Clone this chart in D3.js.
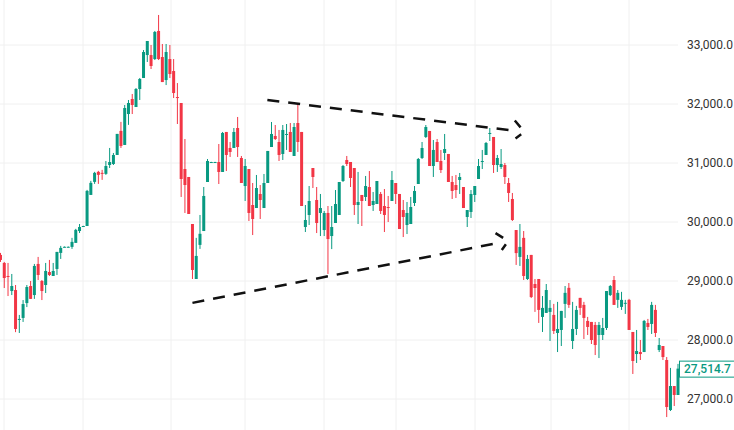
<!DOCTYPE html>
<html><head><meta charset="utf-8">
<script src="https://cdn.jsdelivr.net/npm/d3@7/dist/d3.min.js"></script>
<style>body{margin:0;background:#fff}svg{display:block}</style>
</head><body><svg id="c" width="734" height="430"></svg>
<script>
// OHLC candles [open, high, low, close]
const candles = [
[29442,29476,29323,29357],[29306,29323,28881,29051],[29085,29306,28745,29068],[28830,29119,28762,28915],
[28847,28932,28133,28187],[28340,28425,28119,28357],[28374,28677,28306,28609],[28626,28932,28558,28898],
[28915,29000,28697,28697],[28762,29289,28697,29255],[29289,29408,29017,29102],[29000,29017,28677,28830],
[28932,29306,28796,29170],[29153,29357,29085,29102],[29085,29306,29085,29170],[29204,29493,29102,29493],
[29476,29595,29374,29561],[29578,29585,29570,29580],[29578,29585,29570,29580],[29578,29731,29544,29663],
[29646,29884,29646,29867],[29847,29966,29813,29915],[29930,29936,29928,29932],[29932,30544,29932,30527],
[30459,30697,30459,30663],[30680,30850,30646,30833],[30850,30867,30646,30799],[30833,30884,30714,30816],
[30816,31034,30799,30949],[30966,31255,30915,31017],[30983,31170,30966,31136],[31136,31493,31136,31493],
[31544,31697,31255,31289],[31306,31983,31306,31932],[31830,32068,31646,32017],[32085,32170,31830,31983],
[31949,32271,31949,32254],[32254,32441,32068,32424],[32441,32915,32441,32881],[32830,33068,32712,33068],
[32830,33000,32593,32644],[32762,33238,32745,33221],[33238,33509,32745,32762],[32796,33017,32372,32372],
[32406,33017,32321,32881],[32762,33000,32440,32508],[32559,32762,32101,32186],[32118,32355,31661,32105],
[32017,32017,30424,30729],[30898,31407,30153,30627],[30763,30763,30136,30136],[29966,29966,29034,29187],
[29034,29731,29034,29425],[29612,30119,29544,29800],[29847,30593,29847,30441],[30678,31068,30678,31034],
[31015,31020,31012,31017],[31015,31020,31012,31017],[31017,31322,30644,30848],[30848,31526,30848,31509],
[31526,31526,30864,31136],[31255,31356,31102,31187],[31255,31593,31255,31526],[31593,31780,31102,31271],
[31085,31119,30661,30661],[30610,31068,30356,30949],[30898,30898,30017,30153],[30288,30661,29779,30051],
[30237,30797,30237,30576],[30475,30627,30051,30373],[30237,30814,30237,30661],[30661,31204,30661,31204],
[31271,31695,31271,31492],[31458,31644,31390,31407],[31356,31560,31034,31136],[31153,31644,31051,31560],
[31475,31661,31221,31492],[31526,31678,31187,31187],[31119,31678,31119,31610],[31678,32000,31187,31356],
[31526,31526,30271,30271],[29915,30288,29830,30034],[30119,30610,29949,30356],[30915,30915,30576,30763],
[30373,30593,29813,29983],[30153,30475,29762,30237],[29864,30187,29762,30153],[30153,30271,29119,29711],
[29762,30271,29541,29915],[29983,30542,29983,30305],[30119,30678,30119,30678],[30695,30966,30678,30949],
[31051,31119,30949,30983],[31017,31017,30593,30746],[30915,30915,30119,30288],[30288,30848,29966,30339],
[30458,30458,29932,30356],[30424,30780,30356,30610],[30593,30864,30271,30271],[30288,30509,30187,30356],
[30305,30695,30305,30695],[30475,30509,30136,30187],[30271,30559,29830,30119],[30254,30441,30000,30237],
[30356,30864,30356,30712],[30661,30661,30305,30475],[30475,30475,29881,29881],[30203,30373,29745,30085],
[29949,30339,29796,30153],[29966,30424,29966,30254],[30322,30610,30271,30526],[30644,31085,30644,31068],
[31085,31356,31068,31254],[31441,31644,31424,31610],[31543,31543,30949,30949],[30949,31390,30763,31221],
[31356,31407,31017,31017],[31034,31221,30831,30881],[31170,31492,31051,31237],[31153,31153,30678,30678],
[30678,30780,30390,30526],[30627,30797,30407,30542],[30712,30831,30475,30763],[30593,30593,30237,30237],
[30085,30203,29915,30203],[30170,30542,30068,30475],[30458,30610,30339,30610],[30729,31068,30729,30949],
[31017,31221,30898,31034],[31136,31356,31136,31339],[31492,31593,31373,31509],[31441,31441,30831,30966],
[30966,31136,30848,31085],[30932,31237,30898,30983],[30966,31000,30644,30763],[30661,30746,30339,30492],
[30390,30492,30017,30034],[29864,29864,29272,29473],[29408,29966,29255,29578],[29731,29847,29017,29085],
[29034,29442,29017,29374],[29442,29442,28711,28728],[28949,29034,28476,28881],[29034,29034,28289,28510],
[28391,28745,28136,28544],[28459,28949,28459,28847],[28476,28677,27983,28544],[28425,28612,28102,28153],
[28119,28646,27796,28187],[28170,28493,27898,28493],[28612,28915,28374,28799],[28884,28966,28544,28595],
[27983,28646,27847,28187],[28187,28578,28085,28510],[28714,28714,28425,28544],[28595,28646,28017,28374],
[28323,28391,28085,28221],[28306,28306,27932,28000],[28255,28306,27745,27915],[28085,28306,27694,28255],
[28085,28374,28000,28204],[28204,28830,28170,28830],[28762,28932,28745,28915],[29017,29085,28595,28595],
[28680,28847,28544,28799],[28561,28816,28510,28680],[28625,28680,28442,28630],[28680,28697,28170,28170],
[28136,28136,27424,27644],[27762,28170,27610,27813],[27796,28000,27661,27762],[27796,28340,27796,28323],
[28289,28357,28170,28221],[28272,28646,28102,28595],[28510,28595,28051,28119],[27830,28034,27796,27915],
[27898,27898,27661,27711],[27661,27711,26694,26864],[26813,27527,26796,27220],[27220,27220,26881,27068],
[27068,27595,27068,27514.7]
];
const categories = candles.map((d,i)=>i); // trading sessions
const yTicks = [27000,28000,29000,30000,31000,32000,33000];
const lastPrice = 27514.7;
// trend lines: [index, price] pairs (start, arrow tip)
const upperLine = [[70.9,32068],[139.2,31526]];
const lowerLine = [[51.0,28629],[134.9,29678]];

const svg = d3.select('#c');
const x = d3.scaleLinear().domain([0, categories.length-1]).range([0.5, 678]);
const y = d3.scaleLinear().domain([27000,33000]).range([399,45]);
const green='#089981', red='#f23645';

const vGrid=[4,83,171,245,324,396,475,551,629];
svg.append('g').selectAll('line').data(vGrid).join('line')
 .attr('x1',d=>d).attr('x2',d=>d).attr('y1',0).attr('y2',430).attr('stroke','#f0f0f0');
svg.append('g').selectAll('line').data(yTicks).join('line')
 .attr('x1',0).attr('x2',678).attr('y1',d=>y(d)).attr('y2',d=>y(d)).attr('stroke','#f0f0f0');

const ax = svg.append('g').attr('transform','translate(680,0)')
 .call(d3.axisRight(y).tickValues(yTicks).tickSize(0).tickPadding(7).tickFormat(d3.format(',.1f')));
ax.select('.domain').remove();
ax.selectAll('text').attr('font-family','Roboto, sans-serif').attr('font-size',12).attr('fill','#333');

const g = svg.append('g');
g.selectAll('line').data(candles).join('line')
 .attr('x1',(d,i)=>x(i)).attr('x2',(d,i)=>x(i))
 .attr('y1',d=>y(d[1])).attr('y2',d=>y(d[2]))
 .attr('stroke',d=>d[3]>=d[0]?green:red).attr('stroke-width',1);
g.selectAll('rect').data(candles).join('rect')
 .attr('x',(d,i)=>x(i)-1.5).attr('width',3)
 .attr('y',d=>y(Math.max(d[0],d[3])))
 .attr('height',d=>Math.max(1,Math.abs(y(d[0])-y(d[3]))))
 .attr('fill',d=>d[3]>=d[0]?green:red);

function trend(pts){
  const [a,b]=pts;
  const x1=x(a[0]),y1=y(a[1]),x2=x(b[0]),y2=y(b[1]);
  const ang=Math.atan2(y2-y1,x2-x1);
  svg.append('line').attr('x1',x1).attr('y1',y1)
   .attr('x2',x2-9*Math.cos(ang)).attr('y2',y2-9*Math.sin(ang))
   .attr('stroke','#111').attr('stroke-width',2.5).attr('stroke-dasharray','12,9');
  const L=16, s=0.75;
  [[ang+Math.PI-s,'0,4,7,40'],[ang+Math.PI+s,'0,6,9,40']].forEach(([t,da])=>{
    svg.append('line').attr('x1',x2).attr('y1',y2)
     .attr('x2',x2+L*Math.cos(t)).attr('y2',y2+L*Math.sin(t))
     .attr('stroke','#111').attr('stroke-width',2.5).attr('stroke-dasharray',da);
  });
}
trend(upperLine); trend(lowerLine);

const ly=y(lastPrice);
svg.append('rect').attr('x',679.5).attr('y',ly-7.5).attr('width',60).attr('height',16)
 .attr('fill','#fff').attr('stroke',green).attr('stroke-width',1);
svg.append('text').attr('x',684).attr('y',ly+4.5).text(d3.format(',.1f')(lastPrice))
 .attr('font-family','Roboto, sans-serif').attr('font-size',12).attr('font-weight',500).attr('fill',green);
</script></body></html>
